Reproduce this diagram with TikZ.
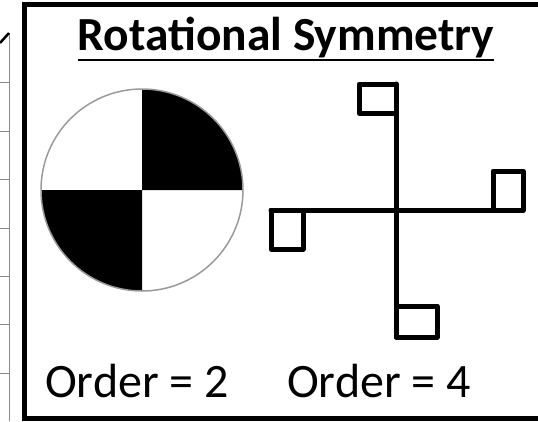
\documentclass[tikz,border=0pt]{standalone}
\usepackage{fontspec}
\setmainfont{Carlito}
\usetikzlibrary{positioning}
\definecolor{rulegray}{HTML}{8A8A8A}
\definecolor{rimgray}{HTML}{9A9A9A}

\begin{document}
\begin{tikzpicture}[x=1pt, y=-1pt,
  frame/.style={line width=4.5pt},
  figline/.style={line width=5pt, line join=round, line cap=round},
  tablerule/.style={draw=rulegray, line width=1pt},
  heading/.style={font=\bfseries\fontsize{47.5}{52}\selectfont, inner sep=0pt, anchor=base},
  caption/.style={font=\fontsize{48}{52}\selectfont, inner sep=0pt, anchor=base west}
]
\useasboundingbox (0,0) rectangle (538,421);
\begin{scope}
\clip (0,0) rectangle (538,421);
% edge of the table beside the box
\draw[tablerule] (9,33) -- (9,421);
\foreach \y in {82,131,179,228,276,324,373}
  \draw[tablerule] (0,\y) -- (10,\y);
\draw[line width=2.5pt] (0,43) -- (9,33);
% the box
\draw[frame] (24.5,4.5) rectangle (560,418.5);
\end{scope}

\node[heading] (title) at (286,50) {Rotational Symmetry};
\draw[line width=2pt] ([yshift=-10pt]title.base west) -- ([yshift=-10pt]title.base east);

% disc, order 2
\coordinate (disc) at (142,190);
\fill (disc) -- ++(101,0) arc[start angle=0, end angle=90, radius=101pt] -- cycle;
\fill (disc) -- ++(-101,0) arc[start angle=180, end angle=270, radius=101pt] -- cycle;
\draw[rimgray, line width=1.5pt] (disc) circle[radius=101pt];

% cross with flags, order 4
\coordinate (hub) at (396,210);
\draw[figline] (396,84) -- (396,337);
\draw[figline] (271,210) -- (523,210);
\draw[figline] (359,84) rectangle (396,113);
\draw[figline] (493,171) rectangle (523,210);
\draw[figline] (271,210) rectangle (303,249);
\draw[figline] (396,306) rectangle (437,337);

\node[caption] (order2) at (45,397) {Order = 2};
\node[caption] (order4) at (287,397) {Order = 4};
\end{tikzpicture}
\end{document}
